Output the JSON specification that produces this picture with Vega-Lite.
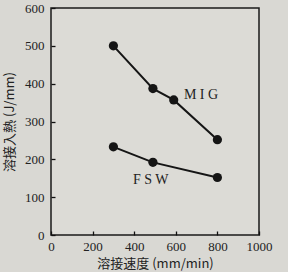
{
  "$schema": "https://vega.github.io/schema/vega-lite/v6.json",
  "width": 208,
  "height": 227,
  "autosize": {"type": "none"},
  "padding": {"left": 51, "top": 8, "right": 29, "bottom": 37},
  "background": "#d9d8d3",
  "config": {
    "view": {"stroke": "#1a1a1a", "strokeWidth": 1.5, "fill": "#dcdbd6"},
    "axis": {
      "grid": false,
      "domain": false,
      "ticks": true,
      "labelFont": "Liberation Serif",
      "labelFontSize": 13,
      "labelColor": "#222",
      "labelOverlap": false,
      "labelFlush": false,
      "titleFont": "Noto Sans CJK JP",
      "titleFontSize": 13,
      "titleFontWeight": "normal",
      "titleColor": "#222",
      "tickColor": "#111",
      "tickSize": 4,
      "tickWidth": 1.3,
      "offset": -4
    }
  },
  "datasets": {
    "lines": [
      {"speed": 300, "heat": 500, "process": "MIG"},
      {"speed": 490, "heat": 387, "process": "MIG"},
      {"speed": 590, "heat": 357, "process": "MIG"},
      {"speed": 800, "heat": 252, "process": "MIG"},
      {"speed": 300, "heat": 233, "process": "FSW"},
      {"speed": 490, "heat": 192, "process": "FSW"},
      {"speed": 800, "heat": 152, "process": "FSW"}
    ],
    "labels": [
      {"speed": 639, "heat": 370, "text": "M I G"},
      {"speed": 394, "heat": 145, "text": "F S W"}
    ]
  },
  "encoding": {
    "x": {"field": "speed", "type": "quantitative", "scale": {"domain": [0, 1000]},
          "axis": {"values": [0, 200, 400, 600, 800, 1000], "format": "d", "title": "溶接速度 (mm/min)", "labelPadding": 5, "titlePadding": 4}},
    "y": {"field": "heat", "type": "quantitative", "scale": {"domain": [0, 600]},
          "axis": {"values": [0, 100, 200, 300, 400, 500, 600], "format": "d", "title": "溶接入熱 (J/mm)", "labelPadding": 7, "titlePadding": 8}}
  },
  "layer": [
    {
      "data": {"name": "lines"},
      "mark": {"type": "line", "color": "#151515", "strokeWidth": 2},
      "encoding": {"detail": {"field": "process"}}
    },
    {
      "data": {"name": "lines"},
      "mark": {"type": "point", "filled": true, "color": "#151515", "size": 85, "opacity": 1},
      "encoding": {}
    },
    {
      "data": {"name": "labels"},
      "mark": {"type": "text", "align": "left", "baseline": "middle", "font": "Liberation Serif", "fontSize": 14, "color": "#222"},
      "encoding": {"text": {"field": "text"}}
    }
  ]
}
